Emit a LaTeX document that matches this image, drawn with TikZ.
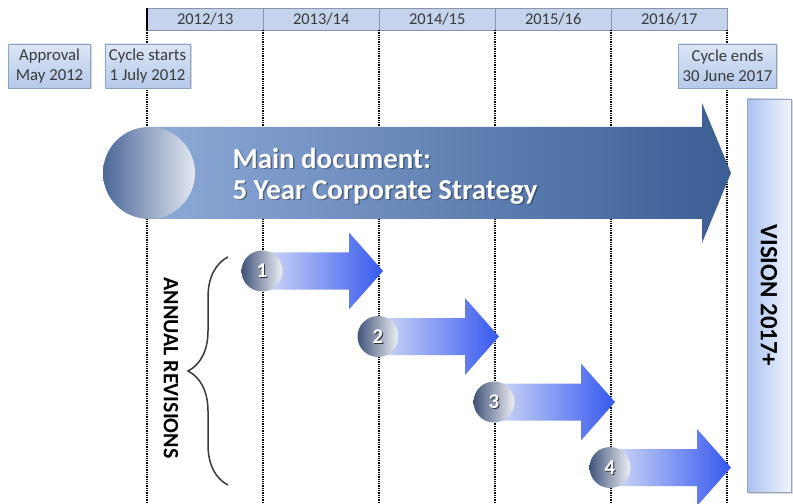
\documentclass[tikz,border=0pt]{standalone}
\usepackage{fontspec}
\setmainfont{Carlito}
\usepackage{tikz}
\usetikzlibrary{positioning}
\usetikzlibrary{shapes}
\usetikzlibrary{shadows}
\usetikzlibrary{decorations.pathreplacing}
\definecolor{hdrfill}{HTML}{C5D4EC}
\definecolor{hdrline}{HTML}{8A96A8}
\definecolor{txtgray}{HTML}{3A3A3A}
\definecolor{boxtop}{HTML}{DCE6F6}
\definecolor{boxbot}{HTML}{B5C9EA}
\definecolor{boxline}{HTML}{8EA2C4}
\definecolor{mainlight}{HTML}{8DAAD8}
\definecolor{maindark}{HTML}{3B5E94}
\definecolor{circdark}{HTML}{4A6899}
\definecolor{circlight}{HTML}{E3E7F1}
\definecolor{arrpale}{HTML}{D3DCF6}
\definecolor{arrblue}{HTML}{3558EE}
\definecolor{ncdark}{HTML}{42547C}
\definecolor{nclight}{HTML}{EEF0F4}
\definecolor{visblue}{HTML}{A9C1F0}
\definecolor{vislight}{HTML}{F2F6FD}
\definecolor{visline}{HTML}{9AA6B8}
\tikzstyle{yearcell}=[rectangle,draw=hdrline,fill=hdrfill,inner sep=0mm,minimum width=116bp,minimum height=22bp,anchor=north west,text=txtgray,font=\fontsize{16.5}{18}\selectfont]
\tikzstyle{datebox}=[rectangle,draw=boxline,top color=boxtop,bottom color=boxbot,inner sep=4bp,minimum height=44bp,align=center,text=txtgray,font=\fontsize{16.8}{20}\selectfont,drop shadow={shadow xshift=1.5bp,shadow yshift=-1.5bp,opacity=0.3}]
\tikzstyle{timeline}=[line width=1.8bp,dash pattern=on 1.3bp off 1bp]
\tikzstyle{maincirc}=[circle,inner sep=0mm,minimum size=92bp,left color=circdark,right color=circlight]
\tikzstyle{numcirc}=[circle,inner sep=0mm,minimum size=41bp,left color=ncdark,right color=nclight]
\tikzstyle{numtext}=[font=\fontsize{21}{21}\bfseries\selectfont]
\tikzstyle{maintext}=[align=left,anchor=west,font=\fontsize{29}{31}\bfseries\selectfont]
\tikzstyle{visbox}=[rectangle,draw=visline,left color=visblue,right color=vislight,minimum width=44bp,minimum height=393bp,drop shadow={shadow xshift=1.5bp,shadow yshift=-1.5bp,opacity=0.3}]
\tikzset{every picture/.style={
    x=1bp,y=-1bp
  }
}

\begin{document}
\begin{tikzpicture}
          \useasboundingbox (0,0) rectangle (793,504);
          % year header
          \foreach \i/\a/\b in {0/2012/13,1/2013/14,2/2014/15,3/2015/16,4/2016/17}
            \node[yearcell] (yr\i) at ({147+116*\i},8) {\a/\b};
          \foreach \i in {0,...,5} {
            \coordinate (t\i) at ({147+116*\i},30);
            \coordinate (b\i) at ({147+116*\i},504);
            \draw[timeline] (t\i) -- (b\i);
          }
          \draw[line width=2bp] (yr0.north west) -- (yr0.south west);
          \node[datebox] (cs) at (147.5,66) {Cycle starts\\1 July 2012};
          \node[datebox,minimum width=82bp] (ap) [left=14bp of cs] {Approval\\May 2012};
          \node[datebox] (ce) at (727.5,66) {Cycle ends\\30 June 2017};
          % main arrow
          \shade[left color=mainlight,right color=maindark] (149,127) -- (702,127) -- (702,103) -- (731,173) -- (702,243) -- (702,219) -- (149,219) -- cycle;
          \node[maincirc] (doc) at (149,173) {};
          \node[maintext,text=black,opacity=0.35] at (230.5,177.5) {Main document:\\5 Year Corporate Strategy};
          \node[maintext,text=white] (main) at (229,176) {Main document:\\5 Year Corporate Strategy};
          % annual revisions
          \foreach \i in {1,...,4} {
            \pgfmathsetmacro\cx{262+116*(\i-1)}
            \pgfmathsetmacro\cy{271+65.5*(\i-1)}
            \shade[left color=arrpale,right color=arrblue] (\cx,\cy-18.5) -- (\cx+87,\cy-18.5) -- (\cx+87,\cy-38.5) -- (\cx+121,\cy) -- (\cx+87,\cy+38.5) -- (\cx+87,\cy+18.5) -- (\cx,\cy+18.5) -- cycle;
            \node[numcirc] (r\i) at (\cx,\cy) {};
            \node[numtext,text=black!80] at ([xshift=0.9bp,yshift=-0.9bp]r\i) {\i};
            \node[numtext,text=white] at (r\i) {\i};
          }
          \coordinate (bt) at (228,257);
          \coordinate (bb) at (228,485);
          \draw[line width=1.5bp,txtgray,decorate,decoration={brace,amplitude=40bp}] (bb) -- (bt);
          \node[rotate=-90,font=\fontsize{22}{22}\bfseries\selectfont] (rev) at (171,368) {ANNUAL REVISIONS};
          % vision
          \node[visbox] (vis) at (769,295.5) {};
          \node[rotate=-90,font=\fontsize{25}{25}\bfseries\selectfont] (vtxt) at (vis) {VISION 2017+};
        \end{tikzpicture}
\end{document}
